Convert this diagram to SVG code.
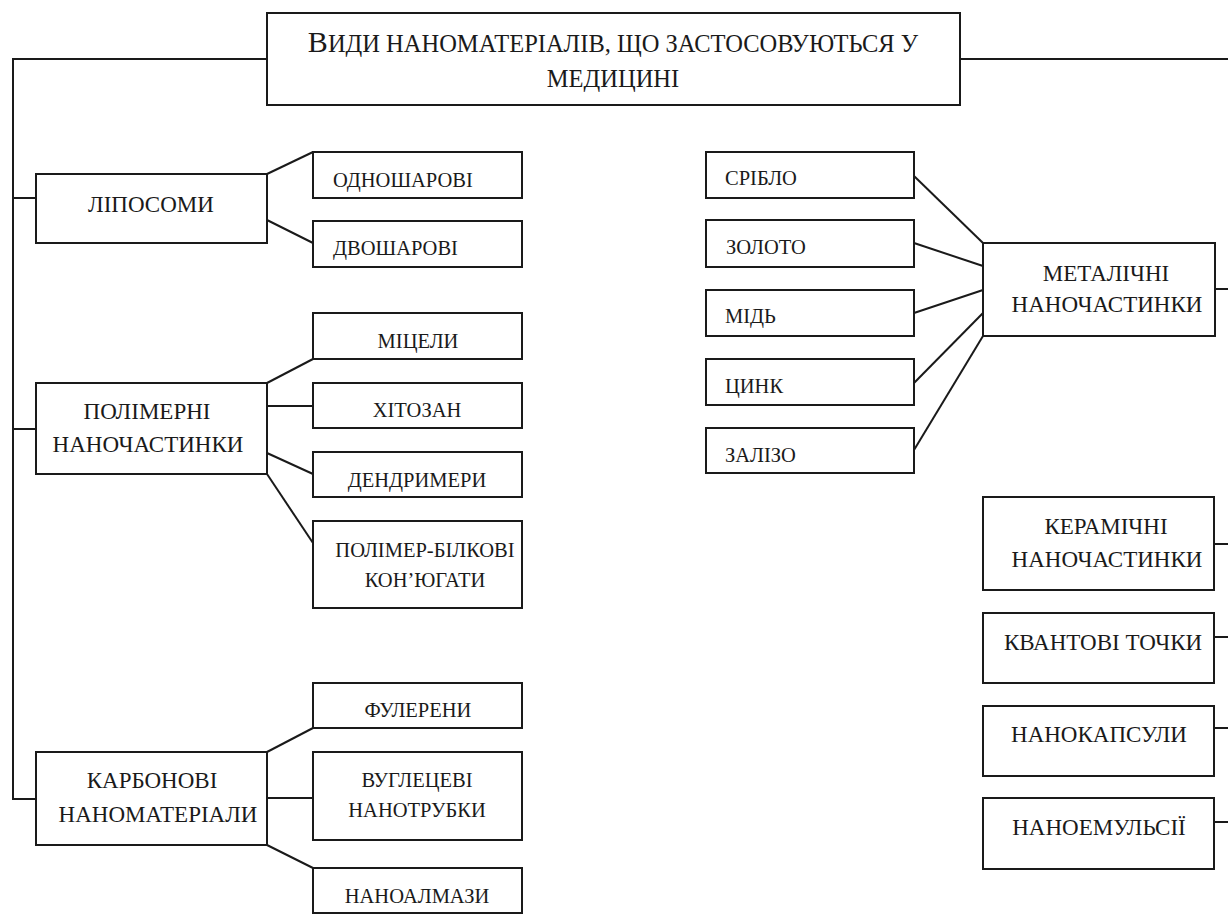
<svg xmlns="http://www.w3.org/2000/svg" width="1228" height="914" viewBox="0 0 1228 914">
<style>
  .box { fill: #fff; stroke: #1a1a1a; stroke-width: 2; }
  .conn { fill: none; stroke: #1a1a1a; stroke-width: 2; }
  text { font-family: "Liberation Serif", "Times New Roman", serif; fill: #1a1a1a; }
  .main { font-size: 23px; text-anchor: middle; }
  .sub { font-size: 20.5px; text-anchor: middle; }
  .subl { font-size: 20.5px; }
  .metal { font-size: 20.5px; }
  .title { font-size: 24.5px; text-anchor: middle; }
</style>
<rect width="1228" height="914" fill="#fff"/>
<g id="connectors">
  <path class="conn" d="M267,59 H13 V799 H36"/>
  <path class="conn" d="M13,198 H36"/>
  <path class="conn" d="M13,429 H36"/>
  <path class="conn" d="M960,59 H1228"/>
  <path class="conn" d="M1215,289 H1228"/>
  <path class="conn" d="M1214,544 H1228"/>
  <path class="conn" d="M1214,637 H1228"/>
  <path class="conn" d="M1214,728 H1228"/>
  <path class="conn" d="M1214,822 H1228"/>
  <path class="conn" d="M267,174 L313,152"/>
  <path class="conn" d="M267,220 L313,243"/>
  <path class="conn" d="M267,383 L313,359"/>
  <path class="conn" d="M267,406 L313,406"/>
  <path class="conn" d="M267,453 L313,474"/>
  <path class="conn" d="M267,474 L313,543"/>
  <path class="conn" d="M267,752 L313,728"/>
  <path class="conn" d="M267,798 L313,798"/>
  <path class="conn" d="M267,845 L313,868"/>
  <path class="conn" d="M914,176 L983,243"/>
  <path class="conn" d="M914,243 L983,266"/>
  <path class="conn" d="M914,313 L983,290"/>
  <path class="conn" d="M914,383 L983,313"/>
  <path class="conn" d="M914,450 L983,336"/>
</g>
<g id="title">
  <rect class="box" x="267" y="13" width="693" height="92"/>
  <text class="title" x="613" y="52"><tspan font-size="30">В</tspan>ИДИ НАНОМАТЕРІАЛІВ, ЩО ЗАСТОСОВУЮТЬСЯ У</text>
  <text class="title" x="613" y="87">МЕДИЦИНІ</text>
</g>
<g id="liposomy">
  <rect class="box" x="36" y="174" width="231" height="69"/>
  <text class="main" x="151" y="212">ЛІПОСОМИ</text>
</g>
<g id="odnosharovi">
  <rect class="box" x="313" y="152" width="209" height="46"/>
  <text class="subl" x="333" y="187">ОДНОШАРОВІ</text>
</g>
<g id="dvosharovi">
  <rect class="box" x="313" y="221" width="209" height="46"/>
  <text class="subl" x="333" y="255">ДВОШАРОВІ</text>
</g>
<g id="polimerni">
  <rect class="box" x="36" y="383" width="231" height="91"/>
  <text class="main" x="147" y="419">ПОЛІМЕРНІ</text>
  <text class="main" x="148" y="452">НАНОЧАСТИНКИ</text>
</g>
<g id="micely">
  <rect class="box" x="313" y="313" width="209" height="46"/>
  <text class="sub" x="418" y="348">МІЦЕЛИ</text>
</g>
<g id="hitozan">
  <rect class="box" x="313" y="383" width="209" height="45"/>
  <text class="sub" x="417" y="417">ХІТОЗАН</text>
</g>
<g id="dendrymery">
  <rect class="box" x="313" y="452" width="209" height="45"/>
  <text class="sub" x="417" y="487">ДЕНДРИМЕРИ</text>
</g>
<g id="polimer-bilkovi">
  <rect class="box" x="313" y="521" width="209" height="87"/>
  <text class="sub" x="425" y="557">ПОЛІМЕР-БІЛКОВІ</text>
  <text class="sub" x="425" y="587">КОН’ЮГАТИ</text>
</g>
<g id="karbonovi">
  <rect class="box" x="36" y="752" width="231" height="93"/>
  <text class="main" x="152" y="788">КАРБОНОВІ</text>
  <text class="main" x="158" y="822">НАНОМАТЕРІАЛИ</text>
</g>
<g id="fulereny">
  <rect class="box" x="313" y="683" width="209" height="45"/>
  <text class="sub" x="418" y="717">ФУЛЕРЕНИ</text>
</g>
<g id="nanotrubky">
  <rect class="box" x="313" y="752" width="209" height="88"/>
  <text class="sub" x="417" y="787">ВУГЛЕЦЕВІ</text>
  <text class="sub" x="417" y="817">НАНОТРУБКИ</text>
</g>
<g id="nanoalmazy">
  <rect class="box" x="313" y="868" width="209" height="45"/>
  <text class="sub" x="417" y="903">НАНОАЛМАЗИ</text>
</g>
<g id="sriblo">
  <rect class="box" x="706" y="152" width="208" height="46"/>
  <text class="metal" x="725" y="185">СРІБЛО</text>
</g>
<g id="zoloto">
  <rect class="box" x="706" y="220" width="208" height="47"/>
  <text class="metal" x="726" y="254">ЗОЛОТО</text>
</g>
<g id="mid">
  <rect class="box" x="706" y="290" width="208" height="46"/>
  <text class="metal" x="725" y="323">МІДЬ</text>
</g>
<g id="cynk">
  <rect class="box" x="706" y="359" width="208" height="46"/>
  <text class="metal" x="725" y="393">ЦИНК</text>
</g>
<g id="zalizo">
  <rect class="box" x="706" y="428" width="208" height="45"/>
  <text class="metal" x="725" y="462">ЗАЛІЗО</text>
</g>
<g id="metalichni">
  <rect class="box" x="983" y="243" width="232" height="93"/>
  <text class="main" x="1106" y="281">МЕТАЛІЧНІ</text>
  <text class="main" x="1107" y="312">НАНОЧАСТИНКИ</text>
</g>
<g id="keramichni">
  <rect class="box" x="983" y="497" width="231" height="93"/>
  <text class="main" x="1106" y="534">КЕРАМІЧНІ</text>
  <text class="main" x="1107" y="567">НАНОЧАСТИНКИ</text>
</g>
<g id="kvantovi">
  <rect class="box" x="983" y="613" width="231" height="70"/>
  <text class="main" x="1103" y="650">КВАНТОВІ ТОЧКИ</text>
</g>
<g id="nanokapsuly">
  <rect class="box" x="983" y="706" width="231" height="70"/>
  <text class="main" x="1099" y="742">НАНОКАПСУЛИ</text>
</g>
<g id="nanoemulsii">
  <rect class="box" x="983" y="798" width="231" height="71"/>
  <text class="main" x="1099" y="835">НАНОЕМУЛЬСІЇ</text>
</g>
</svg>
